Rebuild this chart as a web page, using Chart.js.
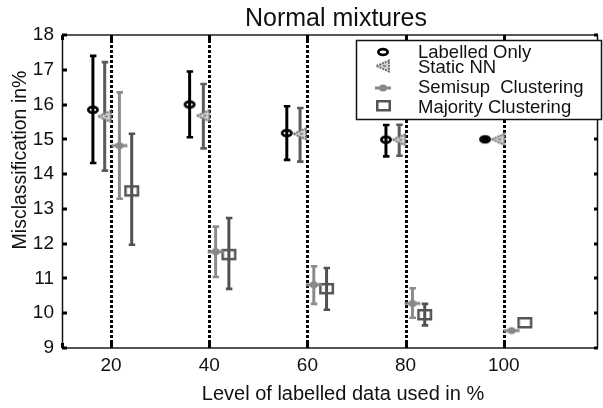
<!DOCTYPE html>
<html><head><meta charset="utf-8">
<script src="https://cdn.jsdelivr.net/npm/chart.js@4/dist/chart.umd.min.js"></script>
<style>html,body{margin:0;padding:0;background:#fff;}#wrap{width:603px;height:408px;}</style>
</head><body><div id="wrap"><canvas id="c" width="603" height="408"></canvas></div>
<script>
// ---- data ----
const chartTitle = 'Normal mixtures';
const xTitle = 'Level of labelled data used in %';
const yTitle = 'Misclassification in%';
const xTickValues = [20, 40, 60, 80, 100];
const yTickMin = 9, yTickMax = 18;
const seriesNames = ['Labelled Only', 'Static NN', 'Semisup  Clustering', 'Majority Clustering'];

const labelledX  = [16.3, 36.0, 55.8, 76.0, 96.2];
const labelledY  = [15.85, 16.0, 15.18, 14.99, 15.0];
const labelledLo = [14.32, 15.06, 14.41, 14.51, 14.97];
const labelledHi = [17.40, 16.95, 15.95, 15.41, 15.03];

const staticX  = [18.7, 38.8, 58.5, 78.7, 98.9];
const staticY  = [15.66, 15.68, 15.16, 14.99, 15.0];
const staticLo = [14.10, 14.74, 14.36, 14.53, null];
const staticHi = [17.22, 16.59, 15.90, 15.42, null];

const semiX  = [21.7, 41.3, 61.3, 81.4, 101.6];
const semiY  = [14.82, 11.77, 10.82, 10.28, 9.50];
const semiLo = [13.29, 11.04, 10.27, 9.87, null];
const semiHi = [16.35, 12.49, 11.35, 10.72, null];

const majorX  = [24.2, 44.0, 63.9, 83.9, 104.3];
const majorY  = [13.51, 11.68, 10.70, 9.95, 9.72];
const majorLo = [11.97, 10.70, 10.10, 9.65, null];
const majorHi = [15.16, 12.74, 11.30, 10.27, null];

// ---- marker images ----
function mk(w, h, draw) { const c = document.createElement('canvas'); c.width = w; c.height = h; draw(c.getContext('2d')); return c; }
const circleImg = mk(16, 12, g => { g.lineWidth = 2.8; g.strokeStyle = '#000'; g.beginPath(); g.ellipse(8, 6, 4.6, 2.9, 0, 0, Math.PI * 2); g.stroke(); });
const triImg = mk(16, 14, g => {
  g.beginPath(); g.moveTo(1.5, 7); g.lineTo(14, 1.5); g.lineTo(14, 12.5); g.closePath();
  g.fillStyle = '#d2d2d2'; g.fill();
  g.setLineDash([2, 1]); g.lineWidth = 2; g.strokeStyle = '#707070'; g.stroke();
  g.setLineDash([]); g.fillStyle = '#8a8a8a'; g.fillRect(8, 6, 3, 2);
});
const semiImg = mk(18, 10, g => {
  g.fillStyle = '#888';
  g.beginPath(); g.ellipse(9, 5, 4, 3.6, 0, 0, Math.PI * 2); g.fill();
  g.fillRect(1, 3.5, 16, 3);
});
const rectImg = mk(17, 14, g => { g.strokeStyle = '#555'; g.lineWidth = 2.5; g.strokeRect(2.25, 2.25, 12.5, 9); });

const markerImgs = [circleImg, triImg, semiImg, rectImg];
const barColors = ['#000000', '#5a5a5a', '#8c8c8c', '#505050'];

function pts(xs, ys) { return xs.map((x, i) => ({ x: x, y: ys[i] })); }
const errs = [[labelledLo, labelledHi], [staticLo, staticHi], [semiLo, semiHi], [majorLo, majorHi]];

const FONT = "'Liberation Sans', Arial, sans-serif";

const decor = {
  id: 'decor',
  beforeDatasetsDraw(chart) {
    const { ctx, chartArea: a, scales: { x, y } } = chart;
    ctx.save();
    ctx.strokeStyle = '#000'; ctx.lineWidth = 3; ctx.setLineDash([3, 2]);
    xTickValues.forEach(v => {
      const px = Math.round(x.getPixelForValue(v)) + 0.5;
      ctx.beginPath(); ctx.moveTo(px, a.top); ctx.lineTo(px, a.bottom); ctx.stroke();
    });
    ctx.setLineDash([]);
    chart.data.datasets.forEach((ds, i) => {
      const [lo, hi] = errs[i];
      ctx.strokeStyle = barColors[i];
      ds.data.forEach((p, j) => {
        if (lo[j] == null) return;
        const px = x.getPixelForValue(p.x);
        const yl = y.getPixelForValue(lo[j]);
        const yh = y.getPixelForValue(hi[j]);
        ctx.lineWidth = 3;
        ctx.beginPath(); ctx.moveTo(px, yl); ctx.lineTo(px, yh); ctx.stroke();
        ctx.lineWidth = 2.6;
        ctx.beginPath();
        ctx.moveTo(px - 3, yl); ctx.lineTo(px + 3.5, yl);
        ctx.moveTo(px - 3, yh); ctx.lineTo(px + 3.5, yh);
        ctx.stroke();
      });
    });
    ctx.restore();
  },
  afterDraw(chart) {
    const { ctx, chartArea: a, scales: { x, y } } = chart;
    ctx.save();
    ctx.lineWidth = 2; ctx.strokeStyle = '#555';
    ctx.beginPath(); ctx.moveTo(a.left, a.top); ctx.lineTo(a.right, a.top); ctx.stroke();
    ctx.beginPath(); ctx.moveTo(a.left, a.bottom); ctx.lineTo(a.right, a.bottom); ctx.stroke();
    ctx.lineWidth = 1.5; ctx.strokeStyle = '#111';
    ctx.beginPath(); ctx.moveTo(a.left + 0.5, a.top); ctx.lineTo(a.left + 0.5, a.bottom); ctx.stroke();
    ctx.beginPath(); ctx.moveTo(a.right - 0.5, a.top); ctx.lineTo(a.right - 0.5, a.bottom); ctx.stroke();
    ctx.fillStyle = '#000';
    for (let v = yTickMin; v <= yTickMax; v++) {
      const py = Math.round(y.getPixelForValue(v));
      ctx.fillRect(a.left, py - 1.5, 5, 3);
      ctx.fillRect(a.right - 4, py - 1.5, 4, 3);
    }
    [x.min].concat(xTickValues).forEach(v => {
      const px = Math.round(x.getPixelForValue(v));
      ctx.fillRect(px - 1, a.bottom - 5, 3, 5);
      ctx.fillRect(px - 1, a.top, 3, 5);
    });
    ctx.fillStyle = '#111';
    ctx.textAlign = 'center'; ctx.textBaseline = 'alphabetic';
    ctx.font = '25px ' + FONT;
    ctx.fillText(chartTitle, 336, 26);
    ctx.font = '20px ' + FONT;
    ctx.fillText(xTitle, 343, 400);
    ctx.save();
    ctx.translate(26, 160); ctx.rotate(-Math.PI / 2);
    ctx.font = '19.5px ' + FONT;
    ctx.fillText(yTitle, 0, 0);
    ctx.restore();
    const lx = 356, ly = 40, lw = 245, lh = 79;
    ctx.fillStyle = '#fff'; ctx.fillRect(lx, ly, lw, lh);
    ctx.lineWidth = 1.5; ctx.strokeStyle = '#111'; ctx.strokeRect(lx + 0.5, ly + 0.5, lw, lh);
    const rowMarkY = [51.7, 66, 88, 106];
    const rowBase = [58.3, 73.3, 93.3, 112.7];
    ctx.font = '18.5px ' + FONT; ctx.textAlign = 'left'; ctx.fillStyle = '#111';
    seriesNames.forEach((n, i) => {
      const img = markerImgs[i];
      ctx.drawImage(img, Math.round(383 - img.width / 2), Math.round(rowMarkY[i] - img.height / 2));
      ctx.fillText(n, 418, rowBase[i]);
    });
    ctx.restore();
  }
};

new Chart(document.getElementById('c'), {
  type: 'scatter',
  data: {
    datasets: [
      { label: seriesNames[0], data: pts(labelledX, labelledY), pointStyle: circleImg },
      { label: seriesNames[1], data: pts(staticX, staticY), pointStyle: triImg },
      { label: seriesNames[2], data: pts(semiX, semiY), pointStyle: semiImg },
      { label: seriesNames[3], data: pts(majorX, majorY), pointStyle: rectImg }
    ]
  },
  options: {
    responsive: false, animation: false, devicePixelRatio: 1,
    layout: { padding: { left: 0, right: 1, top: 35, bottom: 0 } },
    plugins: { legend: { display: false }, tooltip: { enabled: false }, title: { display: false } },
    scales: {
      x: {
        type: 'linear', min: 10, max: 119.2,
        afterBuildTicks: s => { s.ticks = xTickValues.map(v => ({ value: v })); },
        afterFit: s => { s.height = 60; },
        grid: { display: false, drawTicks: false }, border: { display: false },
        ticks: { color: '#111', font: { family: FONT, size: 19 }, padding: 6, maxRotation: 0 }
      },
      y: {
        min: yTickMin, max: yTickMax,
        afterFit: s => { s.width = 62; },
        grid: { display: false, drawTicks: false }, border: { display: false },
        ticks: { stepSize: 1, color: '#111', font: { family: FONT, size: 19 }, padding: 8 }
      }
    }
  },
  plugins: [decor]
});
</script></body></html>
